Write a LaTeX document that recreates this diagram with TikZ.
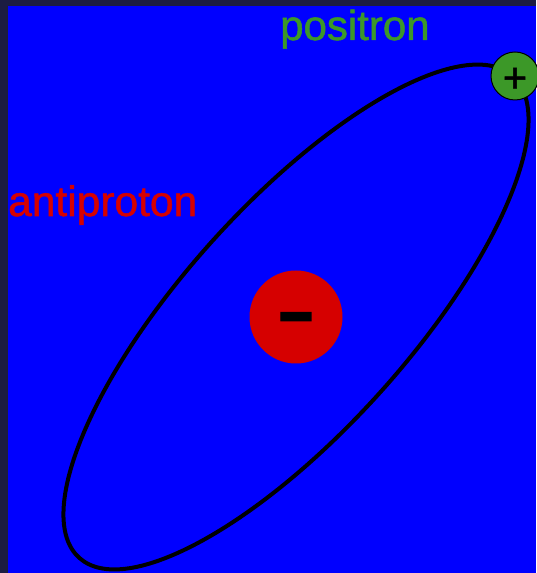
\documentclass[tikz,border=0pt]{standalone}
\usepackage{xcolor}
\usepackage{fontspec}
\usepackage{tikz}
\usetikzlibrary{positioning, calc}
\setmainfont{Liberation Sans}
\newfontfamily\heavysans[FakeBold=1.2]{Liberation Sans}
\definecolor{frame}{RGB}{28, 28, 66}
\definecolor{space}{RGB}{0, 0, 255}
\definecolor{antired}{RGB}{214, 0, 0}
\definecolor{posgreen}{RGB}{60, 152, 40}

\begin{document}
\begin{tikzpicture}[
    x=1pt, y=1pt,
    particle/.style={circle, inner sep=0pt, font=\heavysans\fontsize{42}{42}\selectfont},
    label text/.style={inner sep=0pt, anchor=base west, font=\heavysans\fontsize{42.5}{42}\selectfont},
    orbit/.style={draw=black, line width=4pt}
]

% Tlo
\useasboundingbox (0,0) rectangle (536,573);
\fill[frame] (0,0) rectangle (536,573);
\fill[space] (8,0) rectangle (536,567);

% Jadro
\node [particle, fill=antired, minimum size=93pt] (nucleus) at (296,256)
    {\raisebox{-18pt}[0pt][0pt]{\scalebox{1}[0.6]{\fontsize{118}{118}\selectfont\bfseries -}}};

% Orbita
\draw [orbit, rotate around={48:(nucleus.center)}] (nucleus.center) ellipse [x radius=324, y radius=113];

% Pozyton
\node [particle, fill=posgreen, draw=black, line width=1pt, minimum size=48pt] (positron) at (515,497)
    {\raisebox{-16pt}[0pt][0pt]{+}};

% Opisy
\node [label text, text=antired] (antilabel) at (8,357) {antiproton};
\node [label text, text=posgreen, font=\heavysans\fontsize{42}{42}\selectfont] (poslabel) at (280,533) {positron};

\end{tikzpicture}
\end{document}
